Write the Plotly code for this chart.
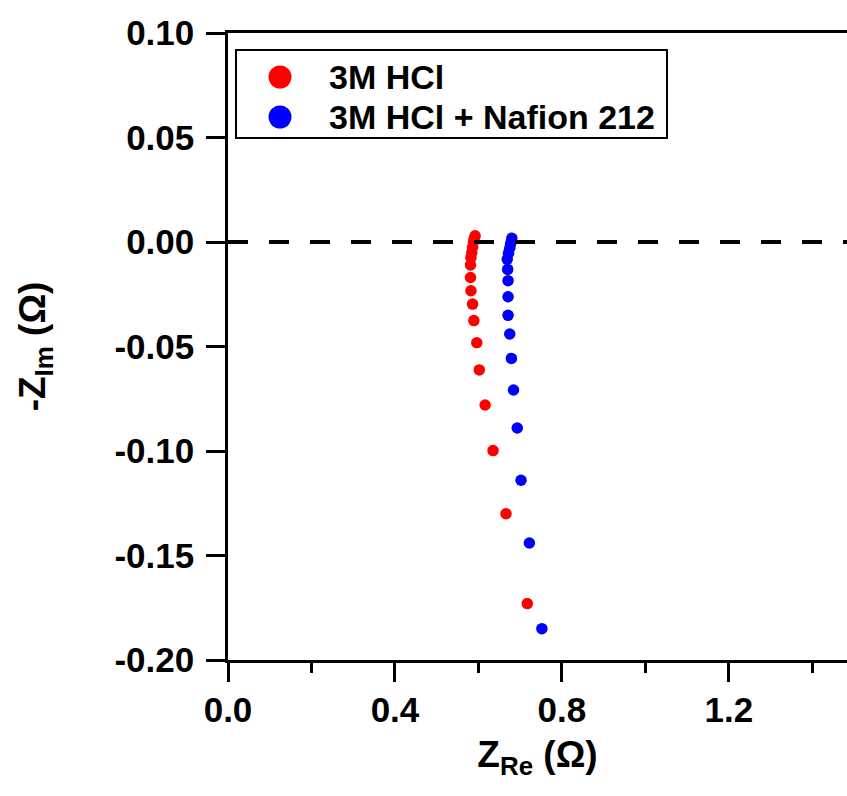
import plotly.graph_objects as go

# ---- data ----
series_names = ["3M HCl", "3M HCl + Nafion 212"]
series_colors = ["#FF0000", "#0000FF"]

hcl_re = [0.592, 0.590, 0.588, 0.586, 0.584, 0.582, 0.581, 0.581, 0.582, 0.586,
          0.589, 0.596, 0.602, 0.616, 0.635, 0.666, 0.717]
hcl_im = [0.0030, 0.0015, 0.0000, -0.0025, -0.0050, -0.0075, -0.0110, -0.0170,
          -0.0233, -0.0297, -0.0376, -0.0482, -0.0612, -0.0780, -0.0998, -0.1300, -0.1730]

naf_re = [0.680, 0.679, 0.677, 0.675, 0.672, 0.669, 0.670, 0.671, 0.671, 0.671,
          0.675, 0.679, 0.684, 0.693, 0.702, 0.722, 0.752]
naf_im = [0.0018, 0.0005, -0.0010, -0.0030, -0.0054, -0.0083, -0.0131, -0.0185,
          -0.0262, -0.0351, -0.0440, -0.0557, -0.0708, -0.0890, -0.1140, -0.1440, -0.1850]

x_major = [0.0, 0.4, 0.8, 1.2]
x_major_labels = ["0.0", "0.4", "0.8", "1.2"]
y_ticks = [0.10, 0.05, 0.00, -0.05, -0.10, -0.15, -0.20]
y_tick_labels = ["0.10", "0.05", "0.00", "-0.05", "-0.10", "-0.15", "-0.20"]

X_RANGE = [0.0, 1.483]
Y_RANGE = [-0.20, 0.10]

FONT = "Liberation Sans, Arial, Helvetica, sans-serif"

fig = go.Figure()
for xs, ys, name, col in [(hcl_re, hcl_im, series_names[0], series_colors[0]),
                          (naf_re, naf_im, series_names[1], series_colors[1])]:
    fig.add_trace(go.Scatter(x=xs, y=ys, mode="markers", name=name,
                             marker=dict(color=col, size=11.5, line=dict(width=0)),
                             showlegend=False))

fig.update_layout(
    width=847, height=796,
    margin=dict(l=228, r=0, t=33, b=136, autoexpand=False),
    paper_bgcolor="white", plot_bgcolor="white",
    font=dict(family=FONT, color="black"),
    showlegend=False,
)

fig.update_xaxes(
    range=X_RANGE, showgrid=False, zeroline=False,
    showline=True, linecolor="black", linewidth=2.5, mirror=True,
    tickmode="array", tickvals=x_major, ticktext=x_major_labels,
    ticks="outside", ticklen=19, tickwidth=2.5, tickcolor="black",
    tickfont=dict(size=35, family=FONT, weight="bold"),
    ticklabelstandoff=-2,
    minor=dict(dtick=0.4, tick0=0.2, ticks="outside", ticklen=10, tickwidth=2.5, tickcolor="black", showgrid=False),
    title=dict(text="Z<sub>Re</sub> (Ω)", font=dict(size=37, family=FONT, weight="bold"), standoff=14),
)
fig.update_yaxes(
    range=Y_RANGE, showgrid=False, zeroline=False,
    showline=True, linecolor="black", linewidth=2.5,
    tickmode="array", tickvals=y_ticks, ticktext=y_tick_labels,
    ticks="outside", ticklen=19, tickwidth=2.5, tickcolor="black",
    tickfont=dict(size=35, family=FONT, weight="bold"),
    ticklabelstandoff=5,
    title=dict(text="-Z<sub>Im</sub> (Ω)", font=dict(size=37, family=FONT, weight="bold"), standoff=58),
)

# dashed reference line at -Z_Im = 0
fig.add_shape(type="line", xref="x domain", yref="y", x0=0, x1=1, y0=0, y1=0,
              line=dict(color="black", width=4, dash="20px,21px"), layer="above")

# custom legend (box, big circle markers, text)
PW, PH = 619.0, 627.0
def px_x(p):
    return (p - 228) / PW
def px_y(p):
    return (660 - p) / PH

fig.add_shape(type="rect", xref="paper", yref="paper",
              x0=px_x(236), x1=px_x(667), y0=px_y(138), y1=px_y(50),
              line=dict(color="black", width=2), fillcolor="white", layer="above")
for i, (name, col) in enumerate(zip(series_names, series_colors)):
    cy = px_y(77 + 40 * i)
    fig.add_shape(type="circle", xref="paper", yref="paper",
                  xsizemode="pixel", ysizemode="pixel",
                  xanchor=px_x(280), yanchor=cy,
                  x0=-11.5, x1=11.5, y0=-11.5, y1=11.5,
                  line=dict(width=0), fillcolor=col, layer="above")
    fig.add_annotation(xref="paper", yref="paper", x=px_x(327), y=cy,
                       xanchor="left", yanchor="middle", showarrow=False,
                       text=name, font=dict(size=34, family=FONT, weight="bold", color="black"))

fig.write_html("out.html")
